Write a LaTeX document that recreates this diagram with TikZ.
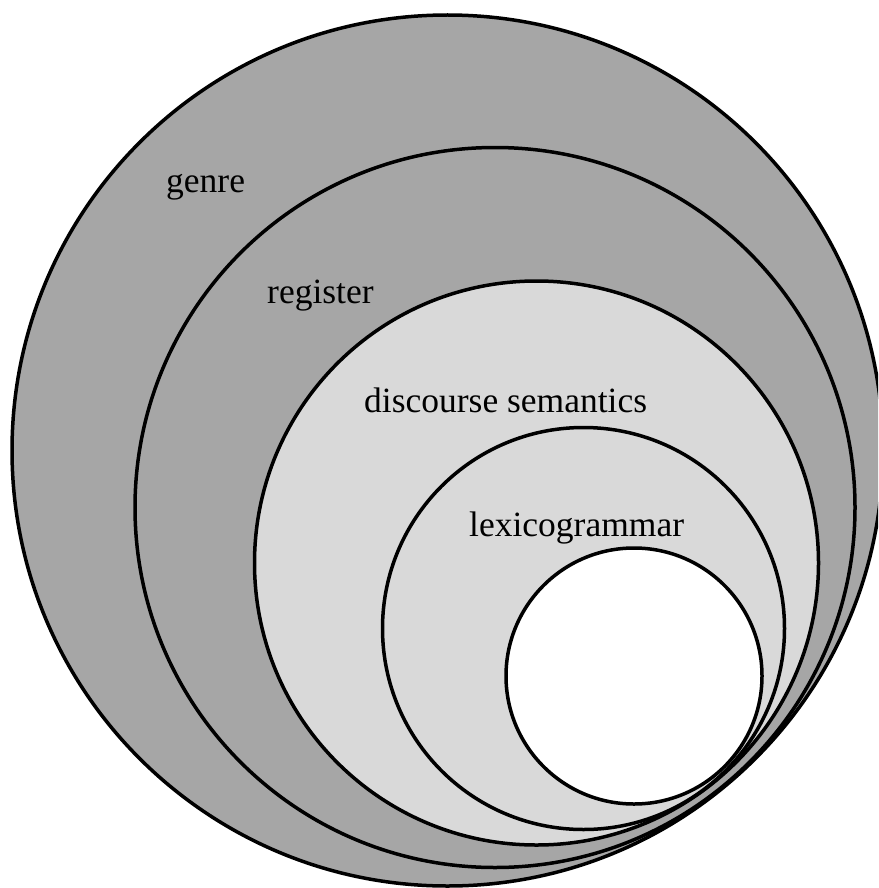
\documentclass[tikz,border=0pt]{standalone}
\usepackage{fontspec}
\setmainfont{Liberation Serif}
\definecolor{darkfill}{HTML}{A6A6A6}
\definecolor{lightfill}{HTML}{D9D9D9}
\begin{document}
\begin{tikzpicture}[x=1pt,y=-1pt,
  ring/.style={draw=black,line width=3.5pt},
  lbl/.style={anchor=base west,inner sep=0pt,font=\fontsize{35.5pt}{40pt}\selectfont}]
\useasboundingbox (0,0) rectangle (878,888);
\coordinate (c1) at (447.5,450.5);
\coordinate (c2) at (495,507.5);
\coordinate (c3) at (536.5,563);
\coordinate (c4) at (583.5,628.5);
\coordinate (c5) at (634,676);
\begin{scope}
\clip (0,0) rectangle (878,888);
\draw[ring,fill=darkfill] (c1) circle[radius=435.5pt];
\draw[ring,fill=darkfill] (c2) circle[radius=360pt];
\draw[ring,fill=lightfill] (c3) circle[radius=282pt];
\draw[ring,fill=lightfill] (c4) circle[radius=201pt];
\draw[ring,fill=white] (c5) circle[radius=128pt];
\end{scope}
\node[lbl] (genre) at (166,192) {genre};
\node[lbl] (register) at (267,303) {register};
\node[lbl] (ds) at (364,412) {discourse semantics};
\node[lbl] (lg) at (469,536) {lexicogrammar};
\end{tikzpicture}
\end{document}
